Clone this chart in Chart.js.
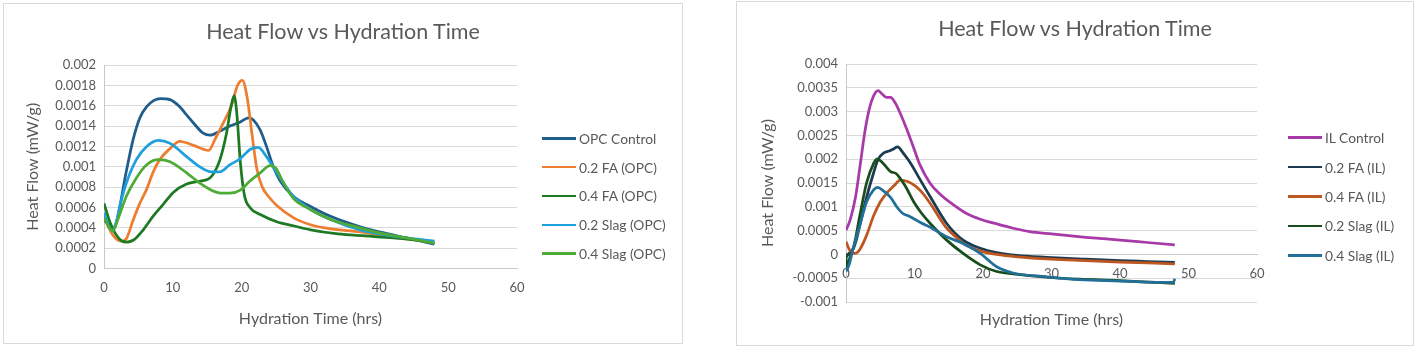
<!DOCTYPE html>
<html>
<head>
<meta charset="utf-8">
<script src="https://cdn.jsdelivr.net/npm/chart.js@4.4.1/dist/chart.umd.min.js"></script>
<style>
  body { margin: 0; width: 1416px; height: 348px; background: #fff; position: relative; overflow: hidden; font-family: Lato, sans-serif; color: #595959; }
  .panel { position: absolute; border: 1px solid #d9d9d9; }
  .panel canvas { position: absolute; left: 0; top: 0; }
  .title { position: absolute; left: 0; right: 0; top: 14px; text-align: center; font-size: 21.5px; line-height: 26px; }
  .legend { position: absolute; font-size: 13.8px; }
  .legend .item { height: 28.8px; display: flex; align-items: center; white-space: nowrap; }
  .legend .swatch { width: 34px; height: 2.5px; margin-right: 3px; }
  #rightLegend .item { height: 29.4px; }
</style>
</head>
<body>

<div class="panel" style="left:3px;top:3px;width:678px;height:339px">
  <canvas id="leftChart" width="678" height="339"></canvas>
  <div class="title">Heat Flow vs Hydration Time</div>
  <div class="legend" id="leftLegend" style="left:538px;top:120px"></div>
</div>

<div class="panel" style="left:736px;top:1px;width:676px;height:343px">
  <canvas id="rightChart" width="676" height="343"></canvas>
  <div class="title" style="top:13px">Heat Flow vs Hydration Time</div>
  <div class="legend" id="rightLegend" style="left:551px;top:121px"></div>
</div>

<script>
// tick labels
const xTickLabels = ['0', '10', '20', '30', '40', '50', '60'];
const leftYTickLabels = ['0', '0.0002', '0.0004', '0.0006', '0.0008', '0.001', '0.0012', '0.0014', '0.0016', '0.0018', '0.002'];
const rightYTickLabels = ['-0.001', '-0.0005', '0', '0.0005', '0.001', '0.0015', '0.002', '0.0025', '0.003', '0.0035', '0.004'];

// series names
const leftNames = ['OPC Control', '0.2 FA (OPC)', '0.4 FA (OPC)', '0.2 Slag (OPC)', '0.4 Slag (OPC)'];
const rightNames = ['IL Control', '0.2 FA (IL)', '0.4 FA (IL)', '0.2 Slag (IL)', '0.4 Slag (IL)'];

// [hours, heat flow mW/g]
const opcControl = [[0, 0.00047], [0.6, 0.00044], [1.2, 0.00038], [1.8, 0.00045], [2.3, 0.00061], [3.2, 0.00094], [4.2, 0.00126], [5.2, 0.00148], [6.2, 0.00159], [7.2, 0.00165], [8.2, 0.00167], [9.6, 0.00166], [11, 0.00159], [12, 0.00151], [13, 0.00143], [14.4, 0.00133], [15.4, 0.00131], [16.8, 0.00135], [18.3, 0.0014], [19.8, 0.00144], [21, 0.00148], [21.7, 0.00146], [22.7, 0.00136], [23.6, 0.0012], [24.6, 0.001], [25.6, 0.00086], [27.5, 0.00071], [30, 0.00061], [33, 0.00051], [37.2, 0.00041], [40, 0.00036], [44, 0.0003], [48, 0.00024]];
const fa02Opc = [[0, 0.00052], [0.5, 0.00043], [1, 0.00036], [1.5, 0.00031], [2, 0.00028], [2.7, 0.00027], [3.3, 0.0003], [4.2, 0.00047], [5.2, 0.00064], [6.2, 0.00078], [7.1, 0.00094], [8.1, 0.00107], [9.6, 0.00118], [11, 0.00125], [13, 0.00121], [15.2, 0.00116], [16.2, 0.00128], [17.1, 0.0014], [18.5, 0.0016], [19.4, 0.0018], [20.1, 0.00185], [20.8, 0.00168], [21.5, 0.00132], [22.2, 0.00098], [23, 0.0008], [24, 0.0007], [25.1, 0.00062], [27.5, 0.0005], [30, 0.00043], [33, 0.00039], [37.2, 0.00036], [40, 0.00033], [44, 0.00029], [48, 0.00026]];
const fa04Opc = [[0, 0.00064], [0.9, 0.00045], [1.6, 0.00035], [2.6, 0.00027], [3.3, 0.00026], [4.3, 0.00028], [5.7, 0.00038], [7.2, 0.00052], [8.6, 0.00063], [10.1, 0.00075], [12, 0.00083], [14, 0.00086], [15.2, 0.00088], [15.9, 0.00093], [16.8, 0.00106], [17.8, 0.00133], [18.4, 0.00157], [18.9, 0.0017], [19.3, 0.00152], [19.8, 0.00105], [20.4, 0.00072], [21.2, 0.0006], [22.7, 0.00053], [25.1, 0.00046], [27.5, 0.00042], [30, 0.00038], [34, 0.00034], [38, 0.00032], [42, 0.0003], [45, 0.00028], [48, 0.00025]];
const slag02Opc = [[0, 0.00055], [0.6, 0.00043], [1.2, 0.00037], [1.8, 0.00046], [2.4, 0.00064], [3.25, 0.00084], [4.7, 0.00107], [6.2, 0.0012], [7.9, 0.00126], [9.6, 0.00123], [12, 0.0011], [13.9, 0.001], [15.6, 0.00095], [16.8, 0.00095], [18.3, 0.00102], [19.8, 0.00108], [21.2, 0.00117], [22.4, 0.00119], [23.6, 0.0011], [25.1, 0.00094], [27.5, 0.00071], [30, 0.00058], [33, 0.00048], [37.2, 0.00038], [40, 0.00034], [44, 0.0003], [48, 0.00027]];
const slag04Opc = [[0, 0.0005], [0.6, 0.00042], [1.3, 0.00037], [2, 0.00048], [3.25, 0.00071], [4.7, 0.00089], [6.2, 0.00102], [7.9, 0.00107], [9.6, 0.00105], [12, 0.00094], [13.9, 0.00084], [15.6, 0.00077], [17.3, 0.00074], [18.3, 0.00074], [19.8, 0.00077], [21.2, 0.00086], [22.7, 0.00094], [24.1, 0.00101], [24.9, 0.00099], [26.1, 0.00084], [27.5, 0.00069], [30, 0.00058], [33, 0.00048], [37.2, 0.0004], [40, 0.00035], [44, 0.0003], [48, 0.00025]];

const ilControl = [[0, 0.00051], [0.6, 0.00072], [1.4, 0.00121], [2.1, 0.00191], [2.8, 0.00262], [3.5, 0.00311], [4.3, 0.0034], [4.7, 0.00344], [5.2, 0.00338], [5.9, 0.0033], [6.5, 0.0033], [7.2, 0.00318], [7.9, 0.00297], [8.9, 0.00262], [9.9, 0.00223], [10.8, 0.00188], [12.3, 0.00149], [13.7, 0.00127], [15.7, 0.00104], [17.6, 0.00086], [19.6, 0.00074], [22, 0.00064], [24.4, 0.00055], [26.8, 0.00048], [30, 0.00043], [35, 0.00036], [40, 0.0003], [44, 0.00025], [48, 0.0002]];
const fa02Il = [[0, -0.00005], [0.5, 0.00003], [1, 0.0001], [1.5, 0.0003], [2, 0.0006], [3, 0.0012], [4, 0.0017], [4.7, 0.002], [5.5, 0.00213], [6.3, 0.00217], [7, 0.00222], [7.5, 0.00226], [8.5, 0.0021], [9.5, 0.0019], [10.5, 0.00165], [12.3, 0.00121], [14.7, 0.00065], [17.1, 0.0003], [19.6, 0.00013], [22, 0.00004], [25, -0.00002], [29.3, -0.00006], [35, -0.0001], [40, -0.00013], [44, -0.00015], [48, -0.00017]];
const fa04Il = [[0, 0.00027], [0.5, 0.0001], [1, 0.00002], [1.5, 0.00003], [2, 0.0001], [3, 0.0004], [4, 0.0008], [5, 0.0011], [6, 0.0013], [7, 0.00144], [7.9, 0.00156], [9, 0.00153], [10, 0.00145], [11, 0.00132], [12.3, 0.00107], [13.5, 0.0008], [14.7, 0.00055], [16, 0.00037], [17.1, 0.00023], [18.3, 0.00014], [19.6, 0.00007], [22, 0], [25, -0.00005], [30, -0.0001], [35, -0.00013], [40, -0.00016], [44, -0.00018], [48, -0.0002]];
const slag02Il = [[0, 0.00002], [0.1, -0.0003], [0.6, -0.00005], [1.2, 0.0002], [2, 0.0008], [3, 0.0015], [4, 0.0019], [4.5, 0.002], [5, 0.00197], [5.8, 0.00185], [6.5, 0.00174], [7.3, 0.0017], [7.9, 0.0016], [8.8, 0.0014], [9.9, 0.0011], [11, 0.00087], [12.3, 0.00065], [14.7, 0.0003], [17.1, 0.00002], [19.6, -0.00022], [22, -0.00036], [24.4, -0.00041], [29.3, -0.00048], [34.1, -0.00052], [40, -0.00055], [44, -0.00058], [48, -0.00061]];
const slag04Il = [[0, -0.00036], [0.5, -0.0002], [1, 0.0001], [2, 0.0006], [3, 0.0011], [4, 0.00135], [4.6, 0.00141], [5.5, 0.00133], [6.5, 0.0012], [7.4, 0.001], [8.2, 0.00087], [9.1, 0.00081], [10, 0.00074], [11, 0.00066], [12.3, 0.00057], [14.7, 0.00037], [17.1, 0.00023], [19.6, 0.00002], [22, -0.00026], [24.4, -0.00039], [29.3, -0.00047], [34.1, -0.00053], [40, -0.00056], [44, -0.00058], [47.8, -0.00059], [48, -0.00051]];

const leftColors = ['#1f5d8c', '#ed7d31', '#1e7a22', '#1fa0dc', '#4eab35'];
const rightColors = ['#a83aa8', '#1d3b50', '#bd561f', '#184d1c', '#22709a'];

const textColor = '#595959';
const gridColor = '#d9d9d9';
const axisColor = '#c8c8c8';
const tickFont = { family: 'Lato', size: 13 };
const axisTitleFont = { family: 'Lato', size: 16 };

function makeDatasets(names, colors, series) {
    return series.map(function (points, i) {
        return {
            label: names[i],
            data: points,
            borderColor: colors[i],
            backgroundColor: colors[i],
            borderWidth: 2.75,
            pointRadius: 0,
            fill: false,
            cubicInterpolationMode: 'monotone',
            order: series.length - i
        };
    });
}

function makeLegend(id, names, colors) {
    const box = document.getElementById(id);
    names.forEach(function (name, i) {
        const item = document.createElement('div');
        item.className = 'item';
        const swatch = document.createElement('span');
        swatch.className = 'swatch';
        swatch.style.background = colors[i];
        const label = document.createElement('span');
        label.textContent = name;
        item.appendChild(swatch);
        item.appendChild(label);
        box.appendChild(item);
    });
}

function xTicks(padding) {
    return {
        stepSize: 10,
        padding: padding,
        color: textColor,
        font: tickFont,
        maxRotation: 0,
        callback: (v, i) => xTickLabels[i]
    };
}

// left chart: OPC blends
new Chart(document.getElementById('leftChart'), {
    type: 'line',
    data: { datasets: makeDatasets(leftNames, leftColors, [opcControl, fa02Opc, fa04Opc, slag02Opc, slag04Opc]) },
    options: {
        responsive: false,
        animation: false,
        devicePixelRatio: 1,
        layout: { padding: { left: 0, right: 165, top: 61, bottom: 0 } },
        plugins: { legend: { display: false }, tooltip: { enabled: false } },
        scales: {
            x: {
                type: 'linear',
                min: 0,
                max: 60,
                ticks: xTicks(12),
                grid: { display: false, drawTicks: false },
                border: { display: true, color: axisColor },
                title: { display: true, text: 'Hydration Time (hrs)', color: textColor, font: axisTitleFont, padding: { top: 0, bottom: 15 } },
                afterFit: function (scale) { scale.height = 74.5; }
            },
            y: {
                min: 0,
                max: 0.002,
                ticks: {
                    stepSize: 0.0002,
                    padding: 8,
                    color: textColor,
                    font: tickFont,
                    callback: (v, i) => leftYTickLabels[i]
                },
                grid: { color: gridColor, drawTicks: false },
                border: { display: true, color: axisColor },
                title: { display: true, text: 'Heat Flow (mW/g)', color: textColor, font: axisTitleFont, padding: { top: 19, bottom: 0 } },
                afterFit: function (scale) { scale.width = 100; }
            }
        }
    }
});

// right chart: IL blends, x axis crosses at zero
new Chart(document.getElementById('rightChart'), {
    type: 'line',
    data: { datasets: makeDatasets(rightNames, rightColors, [ilControl, fa02Il, fa04Il, slag02Il, slag04Il]) },
    options: {
        responsive: false,
        animation: false,
        devicePixelRatio: 1,
        layout: { padding: { left: 0, right: 156, top: 62, bottom: 0 } },
        plugins: { legend: { display: false }, tooltip: { enabled: false } },
        scales: {
            x: {
                type: 'linear',
                min: 0,
                max: 60,
                ticks: { display: false },
                grid: { display: false, drawTicks: false },
                border: { display: false },
                title: { display: true, text: 'Hydration Time (hrs)', color: textColor, font: axisTitleFont, padding: { top: 0, bottom: 16 } },
                afterFit: function (scale) { scale.height = 43; }
            },
            xZero: {
                axis: 'x',
                type: 'linear',
                position: { y: 0 },
                min: 0,
                max: 60,
                ticks: xTicks(12),
                grid: { display: false, drawTicks: false },
                border: { display: true, color: axisColor }
            },
            y: {
                min: -0.001,
                max: 0.004,
                ticks: {
                    stepSize: 0.0005,
                    padding: 8,
                    color: textColor,
                    font: tickFont,
                    callback: (v, i) => rightYTickLabels[i]
                },
                grid: { color: gridColor, drawTicks: false },
                border: { display: true, color: axisColor },
                title: { display: true, text: 'Heat Flow (mW/g)', color: textColor, font: axisTitleFont, padding: { top: 21, bottom: 0 } },
                afterFit: function (scale) { scale.width = 109; }
            }
        }
    }
});

makeLegend('leftLegend', leftNames, leftColors);
makeLegend('rightLegend', rightNames, rightColors);
</script>
</body>
</html>
